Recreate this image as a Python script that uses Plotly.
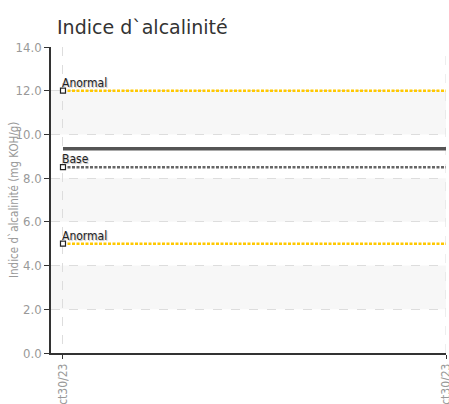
import plotly.graph_objects as go

# ---- data ----
dates = ["Oct30/23", "Oct30/23"]
measured = [9.35, 9.35]
limit_names = ["Anormal", "Base", "Anormal"]
limit_values = [12.0, 8.5, 5.0]
limit_colors = ["#FFC800", "#666666", "#FFC800"]
y_ticks = [0, 2, 4, 6, 8, 10, 12, 14]

W, H = 449, 404
L, R, T, B = 51, 3, 47, 51
FONT_N = "DejaVu Sans Condensed, Liberation Sans Narrow, Roboto, sans-serif"

x_idx = list(range(len(dates)))
fig = go.Figure()

# alternating grey bands
for lo, hi in [(10, 12), (6, 8), (2, 4)]:
    fig.add_shape(type="rect", xref="paper", yref="y", x0=0, x1=1, y0=lo, y1=hi,
                  fillcolor="#f7f7f7", line_width=0, layer="below")

# vertical dashed grid line at the last date (plot edge)
fig.add_shape(type="line", xref="x", x0=x_idx[-1], x1=x_idx[-1], yref="paper", y0=0, y1=1,
              line=dict(color="#dddddd", width=1, dash="dash"), layer="below")

# measured line
fig.add_trace(go.Scatter(x=x_idx, y=measured, mode="lines",
                         line=dict(color="#555555", width=3.5),
                         hoverinfo="skip", showlegend=False))

annots = []
# limit lines
for name, v, c in zip(limit_names, limit_values, limit_colors):
    fig.add_trace(go.Scatter(x=x_idx, y=[v] * len(x_idx), mode="lines",
                             line=dict(color=c, width=2.5, dash="3px,1.5px"),
                             hoverinfo="skip", showlegend=False))
    fig.add_trace(go.Scatter(x=[x_idx[0]], y=[v], mode="markers",
                             marker=dict(symbol="square", size=5, color="white",
                                         line=dict(color="#222222", width=1.2)),
                             hoverinfo="skip", showlegend=False))
    annots.append(dict(text=name, xref="x", x=x_idx[0], yref="y", y=v,
                       xanchor="left", yanchor="bottom", xshift=-3, yshift=-1,
                       showarrow=False,
                       font=dict(family=FONT_N, size=12, color="#222222",
                                 shadow="1px 1px 1px #bbbbbb")))

fig.update_layout(
    width=W, height=H,
    margin=dict(l=L, r=R, t=T, b=B, autoexpand=False),
    paper_bgcolor="white", plot_bgcolor="white",
    title=dict(text="Indice d`alcalinité", xref="container", x=57 / W, xanchor="left",
               yref="container", y=1 - 27 / H, yanchor="middle",
               font=dict(family="DejaVu Sans", size=19, color="#333333")),
    xaxis=dict(range=[-0.0313, 1], tickvals=x_idx, ticktext=dates, tickangle=-90,
               showgrid=True, gridcolor="#dddddd", griddash="dash", gridwidth=1,
               showline=True, linecolor="#333333", linewidth=1.5,
               ticks="outside", ticklen=4, tickcolor="#333333",
               ticklabeloverflow="allow",
               tickfont=dict(family=FONT_N, size=12, color="#999999"),
               zeroline=False, automargin=False, fixedrange=True),
    yaxis=dict(range=[0, 14], tickvals=y_ticks, tickformat=".1f",
               showgrid=True, gridcolor="#dddddd", griddash="dash", gridwidth=1,
               showline=True, linecolor="#333333", linewidth=1.5,
               ticks="outside", ticklen=5, tickcolor="#333333",
               tickfont=dict(family=FONT_N, size=13, color="#999999"),
               zeroline=False, automargin=False, fixedrange=True),
    annotations=annots + [dict(
        text="Indice d`alcalinité (mg KOH/g)", textangle=-90,
        xref="paper", x=(14 - L) / (W - L - R), xanchor="center",
        yref="paper", y=0.5, yanchor="middle", showarrow=False,
        font=dict(family=FONT_N, size=11.5, color="#999999"))],
)

fig.write_html("out.html",
               config={"displayModeBar": False},
               post_script="document.body.style.margin='0';"
                           "document.body.style.overflow='hidden';")
